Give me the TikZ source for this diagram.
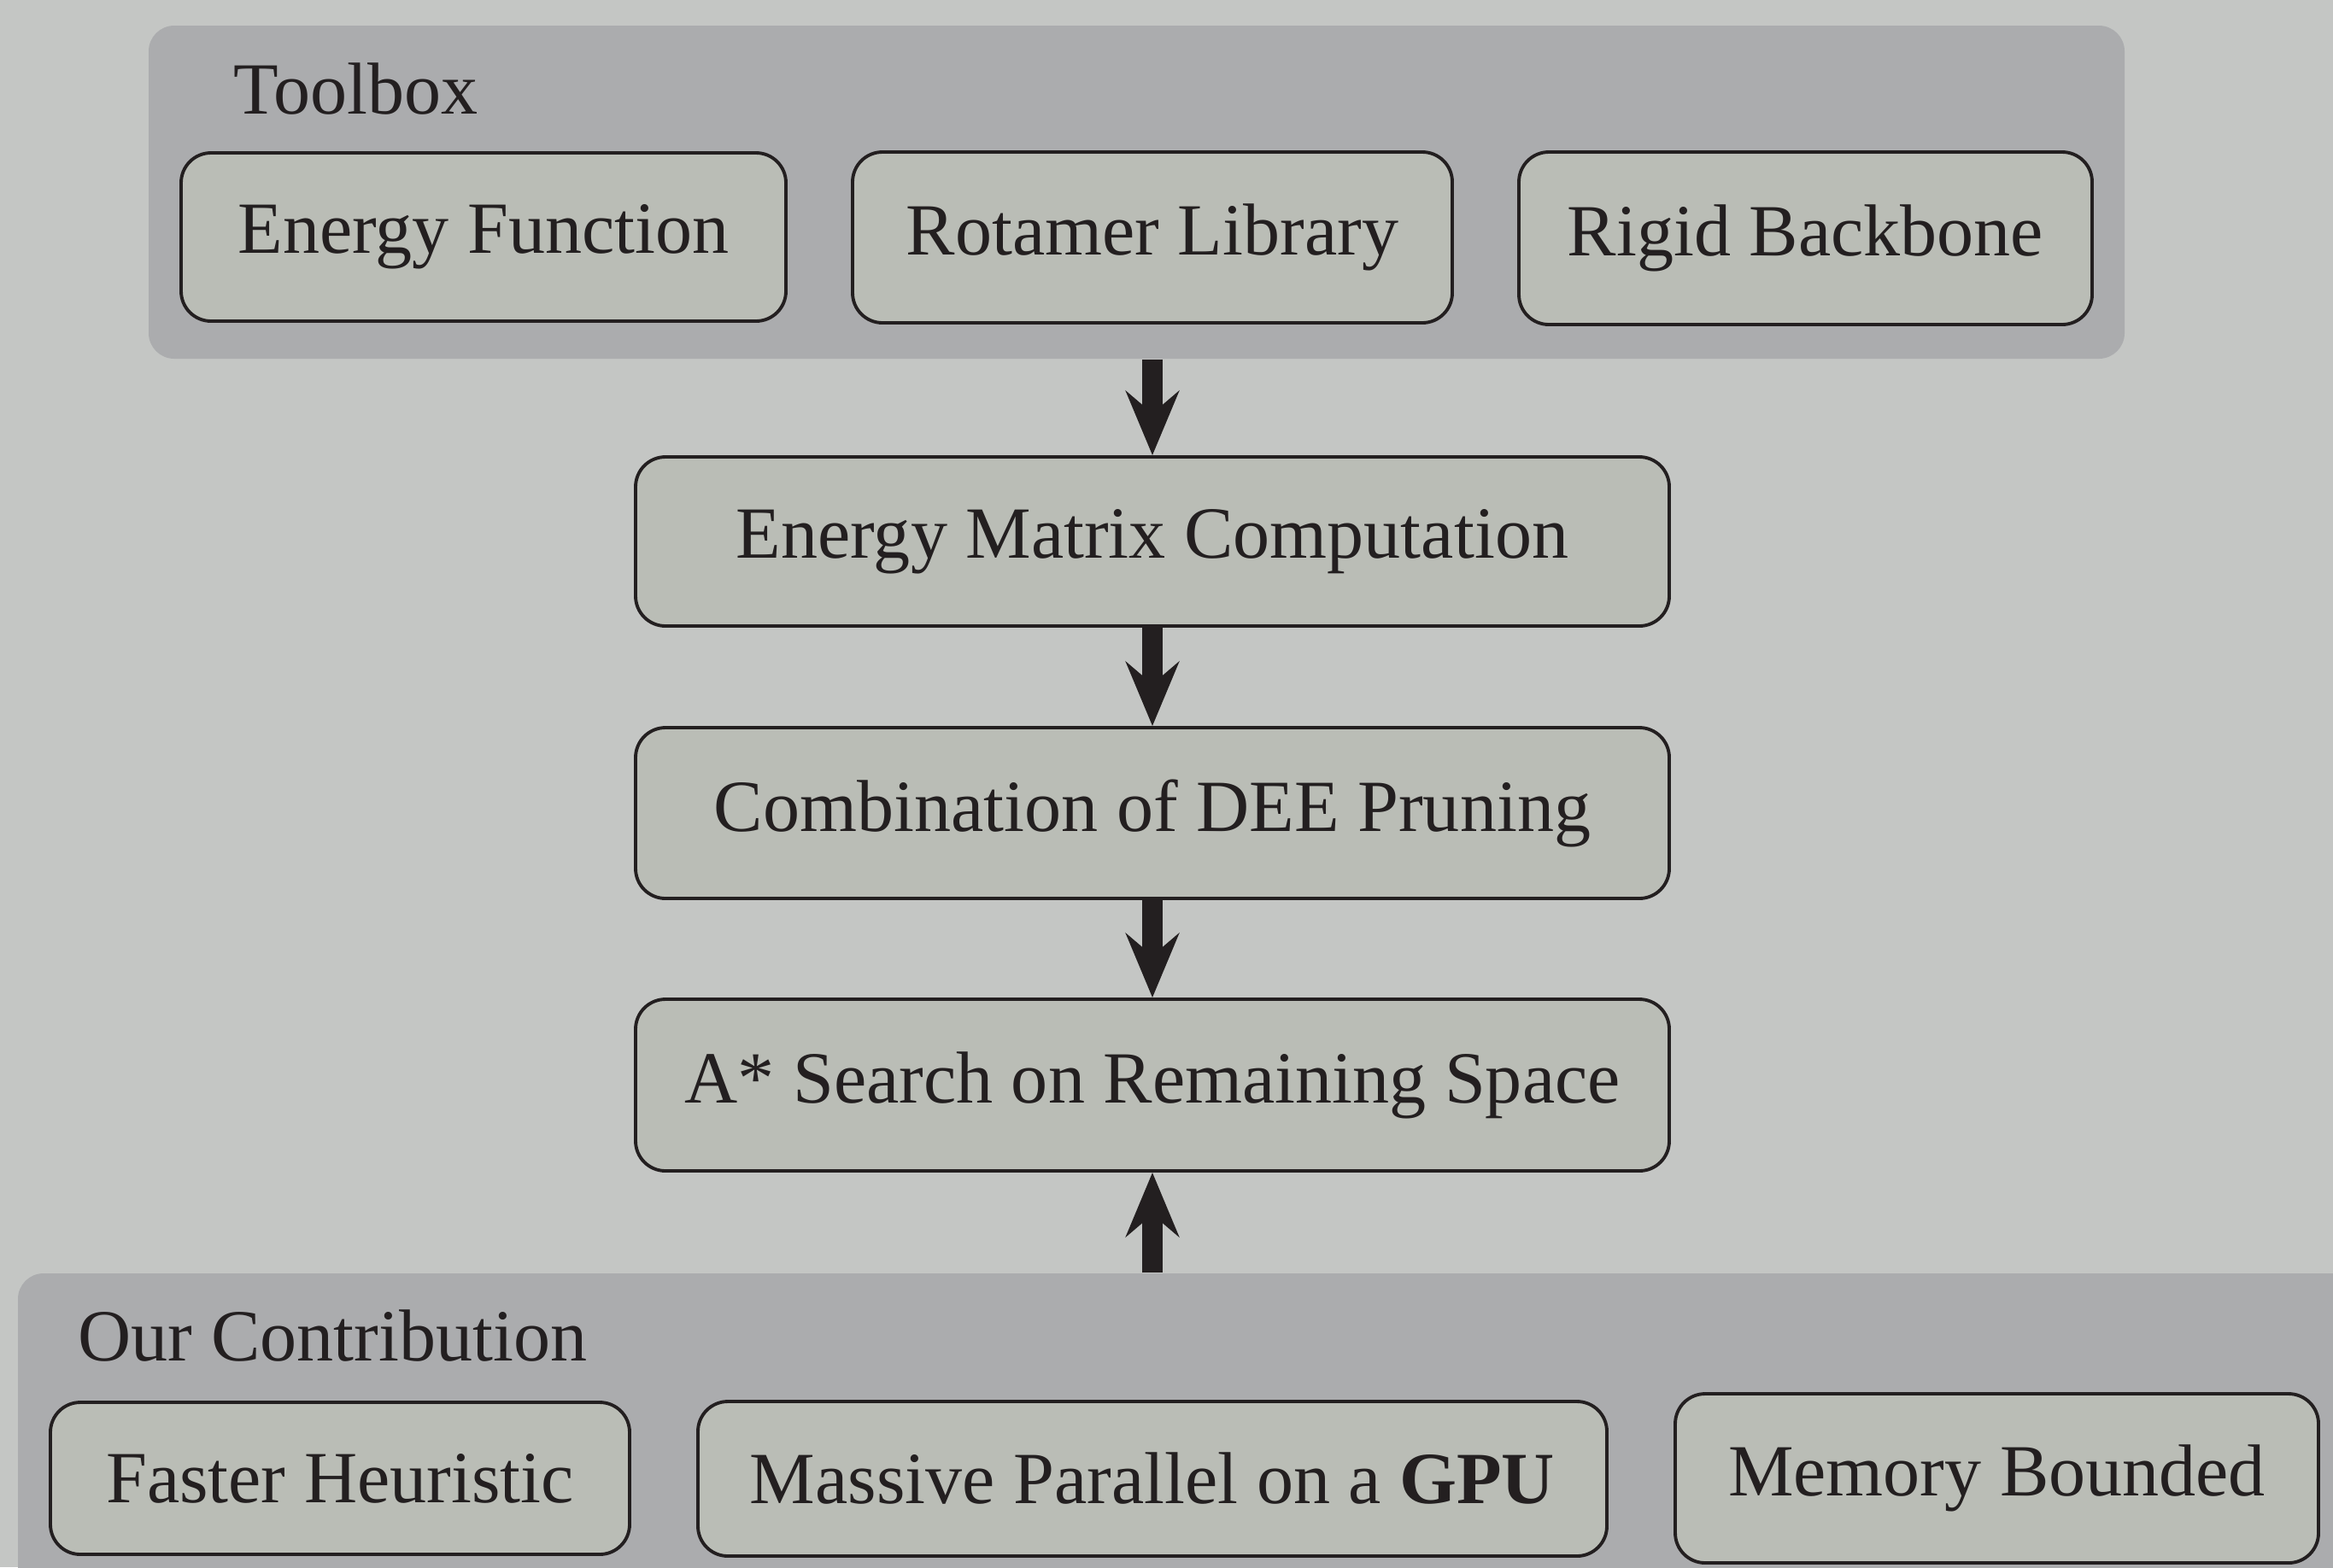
\documentclass[tikz,border=0pt]{standalone}
\usepackage{fontspec}
\setmainfont{Liberation Serif}
\usetikzlibrary{arrows.meta}
\definecolor{bg}{RGB}{196,198,196}
\definecolor{grp}{RGB}{171,172,174}
\definecolor{boxc}{RGB}{186,189,182}
\definecolor{ink}{RGB}{35,31,32}
\begin{document}
\begin{tikzpicture}[
  grpbox/.style={fill=grp, draw=none, rounded corners=0.3cm, inner sep=0pt},
  stepbox/.style={draw=ink, fill=boxc, line width=1.1pt, rounded corners=0.35cm, inner sep=0pt, text=ink, font=\fontsize{24.5}{30}\selectfont},
  lbl/.style={text=ink, font=\fontsize{24.5}{30}\selectfont, anchor=west, inner sep=0pt},
  flow/.style={draw=ink, line width=0.24cm, -{Stealth[length=0.75cm,width=0.62cm,inset=0.26cm]}}
]
\fill[bg] (0,0) rectangle (27.31,-18.35);
\useasboundingbox (0,0) rectangle (27.31,-18.35);

% Toolbox group
\node[grpbox, minimum width=23.13cm, minimum height=3.90cm] (tool) at (13.305,-2.25) {};
\node[lbl] (toollbl) at (2.73,-1.04) {Toolbox};
\node[stepbox, minimum width=7.08cm, minimum height=1.97cm] (ef) at (5.66,-2.775) {Energy Function};
\node[stepbox, minimum width=7.02cm, minimum height=2.00cm] (rl) at (13.49,-2.78) {Rotamer Library};
\node[stepbox, minimum width=6.71cm, minimum height=2.02cm] (rb) at (21.135,-2.79) {Rigid Backbone};

% main flow
\node[stepbox, minimum width=12.10cm, minimum height=1.98cm] (emc) at (13.49,-6.34) {Energy Matrix Computation};
\node[stepbox, minimum width=12.10cm, minimum height=2.00cm] (dee) at (13.49,-9.52) {Combination of DEE Pruning};
\node[stepbox, minimum width=12.10cm, minimum height=2.01cm] (astar) at (13.49,-12.705) {A* Search on Remaining Space};

% Contribution group
\node[grpbox, minimum width=28.4cm, minimum height=4.2cm] (contrib) at (14.41,-17.01) {};
\node[lbl] (contriblbl) at (0.91,-15.64) {Our Contribution};
\node[stepbox, minimum width=6.78cm, minimum height=1.78cm] (fh) at (3.98,-17.31) {Faster Heuristic};
\node[stepbox, minimum width=10.64cm, minimum height=1.81cm] (gpu) at (13.49,-17.315) {Massive Parallel on a \textbf{GPU}};
\node[stepbox, minimum width=7.53cm, minimum height=1.98cm] (mb) at (23.375,-17.31) {Memory Bounded};

% arrows
\draw[flow] (tool.south -| emc.north) -- (emc.north);
\draw[flow] (emc.south) -- (dee.north);
\draw[flow] (dee.south) -- (astar.north);
\draw[flow] (contrib.north -| astar.south) -- (astar.south);
\end{tikzpicture}
\end{document}
